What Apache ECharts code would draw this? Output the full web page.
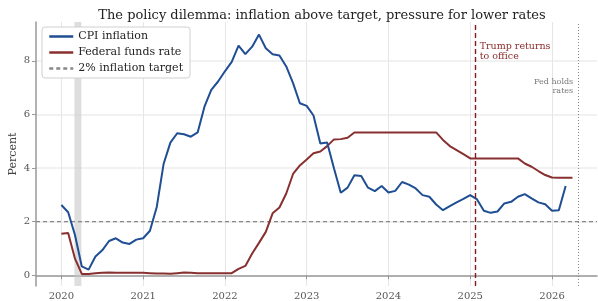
<!DOCTYPE html>
<html>
<head>
<meta charset="utf-8">
<script src="https://cdn.jsdelivr.net/npm/echarts@6/dist/echarts.min.js"></script>
<style>
  html, body { margin: 0; padding: 0; background: #fff; }
  #chart { width: 598px; height: 301px; }
</style>
</head>
<body>
<div id="chart"></div>
<script>
// monthly values starting Jan 2020
const startYear = 2020;
const cpiInflation = [
  2.62, 2.35, 1.50, 0.33, 0.21, 0.70, 0.93, 1.28, 1.38, 1.22, 1.17, 1.33,
  1.38, 1.66, 2.55, 4.15, 4.95, 5.30, 5.26, 5.17, 5.33, 6.29, 6.92, 7.23,
  7.61, 7.96, 8.57, 8.25, 8.53, 8.98, 8.47, 8.25, 8.20, 7.79, 7.17, 6.42,
  6.32, 5.96, 4.92, 4.95, 3.99, 3.08, 3.27, 3.73, 3.70, 3.27, 3.14, 3.33,
  3.09, 3.15, 3.48, 3.38, 3.24, 2.99, 2.93, 2.64, 2.43, 2.58, 2.72, 2.85,
  2.99, 2.83, 2.41, 2.33, 2.38, 2.68, 2.74, 2.93, 3.03, 2.87, 2.72, 2.65,
  2.41, 2.43, 3.33
];
const fedFunds = [
  1.55, 1.58, 0.62, 0.05, 0.05, 0.08, 0.09, 0.10, 0.09, 0.09, 0.09, 0.09,
  0.09, 0.08, 0.07, 0.07, 0.06, 0.08, 0.10, 0.09, 0.08, 0.08, 0.08, 0.08,
  0.08, 0.08, 0.24, 0.35, 0.81, 1.21, 1.62, 2.31, 2.53, 3.05, 3.78, 4.10,
  4.32, 4.55, 4.62, 4.82, 5.07, 5.08, 5.13, 5.33, 5.33, 5.33, 5.33, 5.33,
  5.33, 5.33, 5.33, 5.33, 5.33, 5.33, 5.33, 5.33, 5.05, 4.82, 4.67, 4.52,
  4.36, 4.36, 4.36, 4.36, 4.36, 4.36, 4.36, 4.36, 4.17, 4.05, 3.89, 3.74,
  3.65, 3.64, 3.64, 3.64
];
const inflationTarget = 2;
const yearTicks = [2020, 2021, 2022, 2023, 2024, 2025, 2026];
const percentTicks = [0, 2, 4, 6, 8];
const recession = [2020.16, 2020.245];
const trumpDate = 2025.055;
const fedHoldsDate = 2026.32;

const xMin = 2019.69, xMax = 2026.55;
const serif = 'DejaVu Serif';

function toPairs(arr) {
  return arr.map((v, i) => [startYear + i / 12, v]);
}

const chart = echarts.init(document.getElementById('chart'));

chart.setOption({
  animation: false,
  title: {
    text: 'The policy dilemma: inflation above target, pressure for lower rates',
    left: 317,
    textAlign: 'center',
    top: 4,
    textStyle: { fontFamily: serif, fontSize: 13, fontWeight: 'normal', color: '#222' }
  },
  legend: {
    left: 42,
    top: 27,
    orient: 'vertical',
    backgroundColor: '#fff',
    borderColor: '#d0d0d0',
    borderWidth: 1,
    borderRadius: 3,
    padding: [4, 7, 4, 6],
    itemGap: 5,
    itemWidth: 24,
    itemHeight: 10,
    itemStyle: { opacity: 0 },
    lineStyle: { width: 2.5 },
    textStyle: { fontFamily: serif, fontSize: 11, color: '#222' },
    data: ['CPI inflation', 'Federal funds rate', '2% inflation target']
  },
  grid: { left: 36, right: 1, top: 22, bottom: 15, containLabel: false, outerBoundsMode: 'none' },
  xAxis: {
    type: 'value',
    min: xMin,
    max: xMax,
    axisLine: { lineStyle: { color: '#999', width: 1.5 } },
    axisTick: { show: true, length: 4, lineStyle: { color: '#999' }, customValues: yearTicks },
    axisLabel: {
      customValues: yearTicks,
      fontFamily: serif, fontSize: 10, color: '#555', margin: 5,
      formatter: v => String(Math.round(v))
    },
    splitLine: { show: true, lineStyle: { color: '#e6e6e6', width: 1 } }
  },
  yAxis: {
    type: 'value',
    min: -0.4,
    max: 9.45,
    name: 'Percent',
    nameLocation: 'middle',
    nameGap: 17,
    nameMoveOverlap: false,
    nameTextStyle: { fontFamily: serif, fontSize: 11, color: '#444' },
    axisLine: { show: true, lineStyle: { color: '#999', width: 1.5 } },
    axisTick: { show: true, length: 4, lineStyle: { color: '#999' }, customValues: percentTicks },
    axisLabel: { customValues: percentTicks, fontFamily: serif, fontSize: 10, color: '#555', margin: 6 },
    splitLine: { show: true, lineStyle: { color: '#ececec', width: 1.5 } }
  },
  series: [
    {
      name: '2% inflation target',
      type: 'line',
      symbol: 'none',
      data: [[xMin, inflationTarget], [xMax, inflationTarget]],
      lineStyle: { color: '#888', width: 1.3, type: [4, 3] },
      itemStyle: { color: '#888' },
      z: 1,
      markArea: {
        silent: true,
        itemStyle: { color: 'rgba(200,200,200,0.6)' },
        data: [[{ xAxis: recession[0] }, { xAxis: recession[1] }]]
      },
      markLine: {
        silent: true,
        symbol: 'none',
        label: { show: false },
        data: [
          { xAxis: trumpDate, lineStyle: { color: '#7f1d1d', width: 1.4, type: [5, 3] } },
          { xAxis: fedHoldsDate, lineStyle: { color: '#888', width: 1, type: [1, 2] } }
        ]
      }
    },
    {
      name: 'CPI inflation',
      type: 'line',
      symbol: 'none',
      data: toPairs(cpiInflation),
      lineStyle: { color: '#1f4e93', width: 2 },
      itemStyle: { color: '#1f4e93' },
      z: 3
    },
    {
      name: 'Federal funds rate',
      type: 'line',
      symbol: 'none',
      data: toPairs(fedFunds),
      lineStyle: { color: '#883030', width: 2 },
      itemStyle: { color: '#883030' },
      z: 2
    }
  ]
});

// annotation texts placed next to the reference lines
const trumpPos = chart.convertToPixel({ gridIndex: 0 }, [trumpDate, 8.71]);
const holdsPos = chart.convertToPixel({ gridIndex: 0 }, [fedHoldsDate, 7.38]);
chart.setOption({
  graphic: [
    {
      type: 'text',
      x: trumpPos[0] + 5,
      y: trumpPos[1],
      style: {
        text: 'Trump returns\nto office',
        fontFamily: serif, fontSize: 9.5, lineHeight: 10,
        fill: '#8b2c2c', textAlign: 'left', textVerticalAlign: 'top'
      }
    },
    {
      type: 'text',
      x: holdsPos[0] - 5,
      y: holdsPos[1],
      style: {
        text: 'Fed holds\nrates',
        fontFamily: serif, fontSize: 8, lineHeight: 9,
        fill: '#777', textAlign: 'right', textVerticalAlign: 'top'
      }
    }
  ]
});
</script>
</body>
</html>
